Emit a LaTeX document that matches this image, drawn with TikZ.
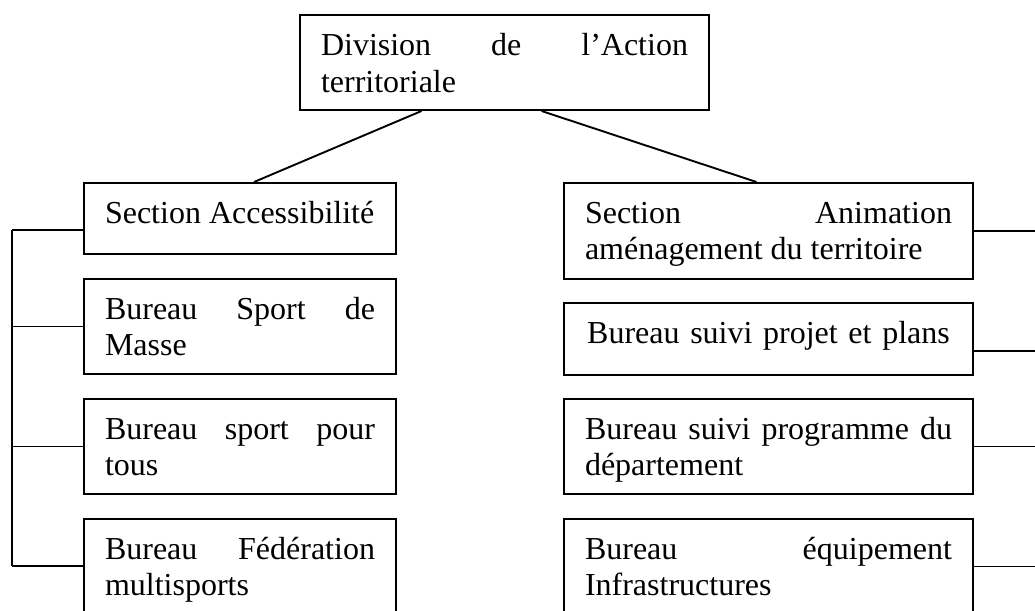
\documentclass[tikz,border=0pt]{standalone}
\usepackage{fontspec}
\setmainfont{Liberation Serif}
\usepackage{tikz}
\usetikzlibrary{positioning}
\newcommand{\orgfont}{\fontsize{32}{36}\selectfont}
\hyphenpenalty=10000
\exhyphenpenalty=10000
\tolerance=10000
\begin{document}
\begin{tikzpicture}[x=1pt, y=-1pt,
    unit/.style={draw, line width=2pt, anchor=north west, inner xsep=21pt, inner ysep=0pt,
      align=justify, text height=40pt, font=\orgfont},
    narrow/.style={text width=270pt},
    wide/.style={text width=367pt},
    short/.style={text depth=31pt},
    tall/.style={text depth=55pt},
    link/.style={line width=1.9pt}]
    \useasboundingbox (0,0) rectangle (1035,610);
    \clip (0,0) rectangle (1035,610);
    % division
    \node [unit, wide, tall, text height=41pt, text depth=54pt] (div) at (299,14) {Division de l'Action\linebreak territoriale};
    % left column
    \node [unit, narrow, short] (la) at (83,182) {Section Accessibilité};
    \node [unit, narrow, tall] (lb) at (83,278) {Bureau Sport de\linebreak Masse};
    \node [unit, narrow, tall] (lc) at (83,398) {Bureau sport pour\linebreak tous};
    \node [unit, narrow, tall] (ld) at (83,518) {Bureau Fédération\linebreak multisports};
    % right column
    \node [unit, wide, tall, text depth=56pt] (ra) at (563,182) {Section Animation\linebreak aménagement du territoire};
    \node [unit, wide, short, text depth=32pt, align=center] (rb) at (563,302) {Bureau suivi projet et plans};
    \node [unit, wide, tall] (rc) at (563,398) {Bureau suivi programme du\linebreak département};
    \node [unit, wide, tall] (rd) at (563,518) {Bureau équipement\linebreak Infrastructures};
    % links
    \draw [link] ([xshift=-83pt]div.south) -- ([xshift=14pt]la.north);
    \draw [link] ([xshift=37pt]div.south) -- ([xshift=-12pt]ra.north);
    \coordinate (ltop) at (12,230);
    \coordinate (lbot) at (12,566);
    \coordinate (redge) at (1040,0);
    \draw [link] (ltop) -- (lbot);
    \draw [link] (ltop) -- (ltop -| la.west);
    \draw [link] (lb.west) -- (lb.west -| ltop);
    \draw [link] (lc.west) -- (lc.west -| ltop);
    \draw [link] (lbot) -- (lbot -| ld.west);
    \draw [link] (ra.east) -- (ra.east -| redge);
    \draw [link] ([yshift=-12pt]rb.east) -- ([yshift=-12pt]rb.east -| redge);
    \draw [link] (rc.east) -- (rc.east -| redge);
    \draw [link] (rd.east) -- (rd.east -| redge);
\end{tikzpicture}
\end{document}
